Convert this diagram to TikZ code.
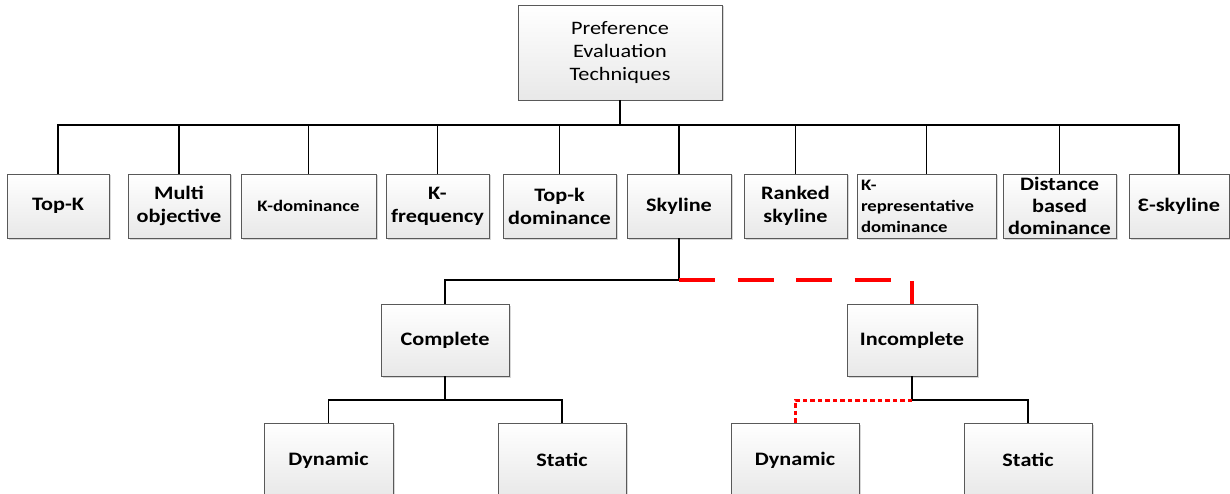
\documentclass[tikz,border=0pt]{standalone}
\usepackage{fontspec}
\setmainfont[FakeStretch=1.17]{Carlito}
\usetikzlibrary{shadows}
\tikzset{
  box/.style={draw=black!65, line width=0.9pt, top color=white, bottom color=black!9,
    drop shadow={shadow xshift=1.5pt, shadow yshift=-1.5pt, opacity=0.35, fill=black!45},
    inner sep=0pt, align=center},
  big/.style={font=\bfseries\fontsize{19}{23}\selectfont},
  sml/.style={font=\bfseries\fontsize{16}{21}\selectfont},
  conn/.style={draw=black, line width=1.1pt},
  reddash/.style={draw=red, line width=3.5pt, dash pattern=on 36pt off 22.5pt},
  reddot/.style={draw=red, line width=3pt, dash pattern=on 4.5pt off 3pt}
}
\begin{document}
\begin{tikzpicture}[x=1pt,y=-1pt]
\useasboundingbox (0,0) rectangle (1230,494);
\clip (0,0) rectangle (1230,494);
% root
\node[box, minimum width=204pt, minimum height=95pt, font=\fontsize{19}{23}\selectfont] (root) at (620,52.5) {Preference\\Evaluation\\Techniques};
% second row
\node[box, big, minimum width=102pt, minimum height=64pt] (topk) at (58,206) {Top-K};
\node[box, big, minimum width=102pt, minimum height=64pt] (multi) at (179,206) {Multi\\objective};
\node[box, sml, minimum width=135pt, minimum height=64pt] (kdom) at (308.5,206) {K-dominance};
\node[box, big, minimum width=103pt, minimum height=64pt] (kfreq) at (437.5,206) {K-\\frequency};
\node[box, big, minimum width=113pt, minimum height=64pt] (topkdom) at (559.5,206) {Top-k\\dominance};
\node[box, big, minimum width=104pt, minimum height=64pt] (sky) at (679,206) {Skyline};
\node[box, big, minimum width=103pt, minimum height=64pt] (ranked) at (795.5,206) {Ranked\\skyline};
\node[box, sml, minimum width=139pt, minimum height=64pt, align=left, text width=131pt] (krep) at (926.5,206) {K-\\representative\\dominance};
\node[box, big, minimum width=113pt, minimum height=64pt, font=\bfseries\fontsize{19}{22}\selectfont] (dist) at (1059.5,206) {Distance\\based\\dominance};
\node[box, big, minimum width=100pt, minimum height=64pt] (eps) at (1179,206) {Ɛ-skyline};
% third row
\node[box, big, minimum width=128pt, minimum height=72pt] (comp) at (445,340) {Complete};
\node[box, big, minimum width=130pt, minimum height=72pt] (incomp) at (912,340) {Incomplete};
% fourth row
\node[box, big, minimum width=129pt, minimum height=74pt] (dyn1) at (328.5,460) {Dynamic};
\node[box, big, minimum width=128pt, minimum height=74pt] (stat1) at (562,460) {Static};
\node[box, big, minimum width=128pt, minimum height=74pt] (dyn2) at (795,460) {Dynamic};
\node[box, big, minimum width=128pt, minimum height=74pt] (stat2) at (1028,460) {Static};
% connectors
\coordinate (trunk) at (620,125);
\draw[conn] (root.south) -- (trunk);
\foreach \n in {topk,multi,kdom,kfreq,topkdom,sky,ranked,krep,dist,eps}
  \draw[conn] (\n.north) |- (trunk);
\coordinate (sj) at (679,280);
\draw[conn] (sky.south) -- (sj) -| (comp.north);
\draw[reddash] (sj) -| (incomp.north);
\coordinate (cj) at (445,400);
\draw[conn] (comp.south) -- (cj);
\draw[conn] (dyn1.north) |- (cj);
\draw[conn] (stat1.north) |- (cj);
\coordinate (ij) at (912,400);
\draw[conn] (incomp.south) -- (ij);
\draw[reddot] (ij) -| (dyn2.north);
\draw[conn] (stat2.north) |- (ij);
\end{tikzpicture}
\end{document}
